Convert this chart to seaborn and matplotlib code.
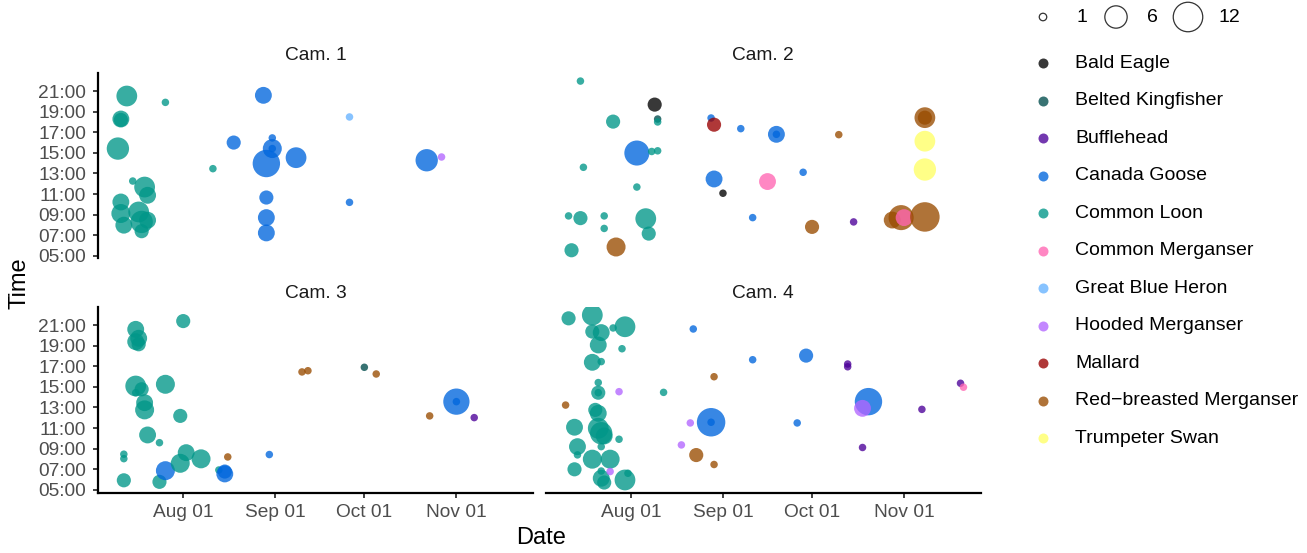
import numpy as np
import pandas as pd
import matplotlib
matplotlib.use("Agg")
import matplotlib.pyplot as plt
import matplotlib.dates as mdates
import seaborn as sns

# species codes -> legend names and colours
species_codes = ["BAEA", "BEKI", "BUFF", "CAGO", "COLO", "COME",
                 "GBHE", "HOME", "MALL", "RBME", "TRSW"]
species_names = ["Bald Eagle", "Belted Kingfisher", "Bufflehead", "Canada Goose",
                 "Common Loon", "Common Merganser", "Great Blue Heron",
                 "Hooded Merganser", "Mallard", "Red\u2212breasted Merganser",
                 "Trumpeter Swan"]
species_colors = ["#000000", "#004C4C", "#4C0099", "#0066DD", "#009688", "#FF66B2",
                  "#66B2FF", "#B266FF", "#990000", "#994C00", "#FFFF66"]

size_breaks = [1, 6, 12]

# ---- Cam. 1 ----
cam1_species = ["COLO", "COLO", "COLO", "COLO", "COLO", "COLO", "COLO", "COLO",
                "COLO", "COLO", "COLO", "COLO", "COLO", "COLO", "COLO", "COLO",
                "CAGO", "CAGO", "CAGO", "CAGO", "CAGO", "CAGO", "CAGO", "CAGO",
                "CAGO", "CAGO", "CAGO", "CAGO", "GBHE", "HOME"]
cam1_dates = ["07-13", "07-26", "07-11", "07-11", "07-10", "07-15", "07-19", "07-20",
              "07-11", "07-11", "07-17", "07-18", "07-12", "07-20", "07-18", "08-11",
              "08-28", "08-18", "08-31", "08-31", "08-31", "08-29", "09-08", "08-29",
              "08-29", "08-29", "09-26", "10-22", "09-26", "10-27"]
cam1_times = ["20:31", "19:54", "18:17", "18:12", "15:25", "12:16", "11:41", "10:53",
              "10:14", "09:07", "09:16", "08:18", "07:59", "08:28", "07:24", "13:28",
              "20:35", "16:00", "16:27", "15:25", "15:25", "13:58", "14:32", "10:40",
              "08:43", "07:14", "10:12", "14:17", "18:29", "14:36"]
cam1_counts = [5, 1, 3, 2, 6, 1, 5, 3, 3, 4, 5, 6, 3, 3, 2, 1,
               3, 2, 1, 4, 1, 10, 5, 2, 3, 3, 1, 6, 1, 1]

# ---- Cam. 2 ----
cam2_species = ["COLO", "BAEA", "COLO", "BEKI", "COLO", "CAGO", "MALL", "CAGO",
                "CAGO", "CAGO", "RBME", "RBME", "RBME", "TRSW", "TRSW", "CAGO",
                "COLO", "COLO", "COLO", "CAGO", "COME", "CAGO", "COLO", "BAEA",
                "COLO", "COLO", "COLO", "COLO", "COLO", "COLO", "COLO", "RBME",
                "CAGO", "RBME", "BUFF", "RBME", "RBME", "COME", "RBME"]
cam2_dates = ["07-15", "08-09", "07-26", "08-10", "08-10", "08-28", "08-29", "09-07",
              "09-19", "09-19", "10-10", "11-08", "11-08", "11-08", "11-08", "08-03",
              "08-08", "08-10", "07-16", "08-29", "09-16", "09-28", "08-03", "09-01",
              "07-11", "07-15", "07-23", "07-23", "08-06", "08-07", "07-12", "07-27",
              "09-11", "10-01", "10-15", "10-28", "10-31", "11-01", "11-08"]
cam2_times = ["21:58", "19:41", "18:02", "18:17", "18:00", "18:23", "17:44", "17:21",
              "16:48", "16:48", "16:46", "18:25", "18:25", "16:08", "13:23", "14:59",
              "15:08", "15:12", "13:36", "12:28", "12:13", "13:07", "11:41", "11:05",
              "08:53", "08:40", "08:53", "07:40", "08:37", "07:10", "05:33", "05:52",
              "08:43", "07:49", "08:18", "08:29", "08:43", "08:43", "08:47"]
cam2_counts = [1, 2, 2, 1, 1, 1, 2, 1, 3, 1, 1, 5, 2, 5, 6, 8,
               1, 1, 1, 3, 3, 1, 1, 1, 1, 2, 1, 1, 5, 2, 2, 4,
               1, 2, 1, 3, 8, 3, 12]

# ---- Cam. 3 ----
cam3_species = ["COLO", "COLO", "COLO", "COLO", "COLO", "COLO", "COLO", "COLO",
                "COLO", "COLO", "COLO", "COLO", "COLO", "COLO", "COLO", "COLO",
                "COLO", "COLO", "CAGO", "COLO", "COLO", "COLO", "COLO", "CAGO",
                "CAGO", "RBME", "CAGO", "RBME", "RBME", "BEKI", "RBME", "RBME",
                "CAGO", "CAGO", "BUFF"]
cam3_dates = ["08-01", "07-16", "07-17", "07-16", "07-17", "07-16", "07-18", "07-16",
              "07-26", "07-19", "07-19", "07-31", "07-20", "07-24", "07-12", "07-12",
              "07-12", "07-24", "07-26", "07-31", "08-02", "08-07", "08-13", "08-15",
              "08-15", "08-16", "08-30", "09-10", "09-12", "10-01", "10-05", "10-23",
              "11-01", "11-01", "11-07"]
cam3_times = ["21:23", "20:35", "19:43", "19:23", "19:08", "15:05", "14:46", "14:26",
              "15:15", "13:28", "12:46", "12:11", "10:20", "09:35", "08:28", "08:02",
              "05:56", "05:47", "06:52", "07:35", "08:37", "08:01", "06:56", "06:33",
              "06:47", "08:12", "08:26", "16:27", "16:34", "16:54", "16:15", "12:11",
              "13:34", "13:34", "12:01"]
cam3_counts = [2, 3, 3, 3, 2, 5, 2, 1, 4, 3, 4, 2, 3, 1, 1, 1,
               2, 2, 4, 4, 3, 4, 1, 3, 2, 1, 1, 1, 1, 1, 1, 1,
               9, 1, 1]

# ---- Cam. 4 ----
cam4_species = ["COLO", "COLO", "COLO", "COLO", "COLO", "COLO", "COLO", "COLO",
                "COLO", "COLO", "CAGO", "CAGO", "CAGO", "BUFF", "BUFF", "RBME",
                "COLO", "COLO", "COLO", "HOME", "COLO", "RBME", "BUFF", "COME",
                "COLO", "COLO", "CAGO", "HOME", "BUFF", "CAGO", "CAGO", "HOME",
                "CAGO", "COLO", "COLO", "COLO", "COLO", "COLO", "COLO", "COLO",
                "COLO", "COLO", "COLO", "COLO", "COLO", "COLO", "COLO", "COLO",
                "COLO", "HOME", "HOME", "RBME", "RBME", "BUFF"]
cam4_dates = ["07-11", "07-19", "07-30", "07-26", "07-19", "07-22", "07-21", "07-29",
              "07-19", "07-22", "08-22", "09-11", "09-29", "10-13", "10-13", "08-29",
              "07-21", "07-21", "07-21", "07-28", "08-12", "07-10", "11-20", "11-21",
              "07-20", "07-21", "10-20", "10-18", "11-07", "08-28", "08-28", "08-21",
              "09-26", "07-13", "07-21", "07-22", "07-23", "07-28", "07-14", "07-14",
              "07-22", "07-19", "07-25", "07-13", "07-22", "07-22", "07-23", "07-30",
              "07-31", "07-25", "08-18", "08-23", "08-29", "10-18"]
cam4_times = ["21:39", "21:58", "20:50", "20:43", "20:22", "20:16", "19:04", "18:42",
              "17:23", "17:27", "20:37", "17:38", "18:02", "17:13", "16:57", "15:59",
              "15:25", "14:26", "14:26", "14:32", "14:28", "13:14", "15:21", "14:58",
              "12:46", "12:26", "13:34", "12:55", "12:49", "11:34", "11:34", "11:30",
              "11:30", "11:05", "10:59", "10:30", "10:14", "09:55", "09:12", "08:24",
              "09:12", "07:59", "07:59", "07:00", "06:50", "06:08", "05:43", "05:58",
              "06:37", "06:47", "09:22", "08:23", "07:28", "09:07"]
cam4_counts = [2, 5, 5, 1, 2, 3, 3, 1, 3, 1, 1, 1, 2, 1, 1, 1,
               1, 2, 1, 1, 1, 1, 1, 1, 2, 3, 10, 3, 1, 11, 1, 1,
               1, 3, 5, 6, 3, 1, 3, 1, 1, 4, 4, 2, 1, 3, 2, 5,
               1, 1, 1, 2, 1, 1]

cam_titles = ["Cam. 1", "Cam. 2", "Cam. 3", "Cam. 4"]
YEAR = "2021"


def make_frame(species, dates, times, counts):
    ''' Build a tidy frame for one camera from the parallel lists. '''
    names = dict(zip(species_codes, species_names))
    return pd.DataFrame({
        'species': [names[s] for s in species],
        'date': pd.to_datetime([YEAR + '-' + d for d in dates]),
        'time': [int(t[:2]) + int(t[3:]) / 60 for t in times],
        'count': counts,
    })


frames = [make_frame(cam1_species, cam1_dates, cam1_times, cam1_counts),
          make_frame(cam2_species, cam2_dates, cam2_times, cam2_counts),
          make_frame(cam3_species, cam3_dates, cam3_times, cam3_counts),
          make_frame(cam4_species, cam4_dates, cam4_times, cam4_counts)]

# ggplot-like size scale: diameter grows with sqrt of the rescaled count
DPI = 100
W, H = 1307, 553


def diam_px(n):
    return 7.5 + 22.0 * np.sqrt((n - 1) / 11.0)


def area_pt(n):
    return (diam_px(n) * 72.0 / DPI) ** 2


size_map = {n: area_pt(n) for n in range(1, 13)}
palette = dict(zip(species_names, species_colors))

sns.set_theme(style="white")
plt.rcParams['font.family'] = ['Liberation Sans', 'DejaVu Sans']

fig = plt.figure(figsize=(W / DPI, H / DPI), dpi=DPI)

# panel boxes in pixels: (left, top, width, height)
left_x, right_x, pw = 98, 545.7, 435
top_y, bot_y, ph = 73, 307, 185.5
boxes = [(left_x, top_y), (right_x, top_y), (left_x, bot_y), (right_x, bot_y)]
strip_off = [18, 18, 14, 14]

xlo = mdates.date2num(pd.Timestamp(YEAR + '-08-01')) - 28.7
xhi = mdates.date2num(pd.Timestamp(YEAR + '-08-01')) + 117.8
ticks = [pd.Timestamp(YEAR + m) for m in ['-08-01', '-09-01', '-10-01', '-11-01']]

for i, (df, (bx, by)) in enumerate(zip(frames, boxes)):
    ax = fig.add_axes([bx / W, 1 - (by + ph) / H, pw / W, ph / H])
    sns.scatterplot(data=df, x='date', y='time', hue='species', palette=palette,
                    size='count', sizes=size_map, alpha=0.78, linewidth=0,
                    legend=False, ax=ax)
    ax.set_xlim(xlo, xhi)
    ax.set_ylim(4.75, 22.75)
    ax.set_xticks([mdates.date2num(t) for t in ticks])
    ax.xaxis.set_major_formatter(mdates.DateFormatter('%b %d'))
    ax.set_yticks(range(5, 22, 2))
    ax.set_yticklabels(['{:02d}:00'.format(h) for h in range(5, 22, 2)])
    ax.set(xlabel='', ylabel='')
    ax.grid(False)
    for side in ['top', 'right']:
        ax.spines[side].set_visible(False)
    for side in ['left', 'bottom']:
        ax.spines[side].set_color('black')
        ax.spines[side].set_linewidth(1.6)
    ax.tick_params(axis='both', length=3.5, width=1.3, color='#333333',
                   labelsize=13.8, labelcolor='#4D4D4D', pad=5, left=True, bottom=True)
    if i < 2:
        ax.spines['bottom'].set_visible(False)
        ax.tick_params(axis='x', bottom=False, labelbottom=False)
    if i % 2 == 1:
        ax.spines['left'].set_visible(False)
        ax.tick_params(axis='y', left=False, labelleft=False)
    ax.patch.set_alpha(0)
    # strip title
    fig.text((bx + pw / 2) / W, 1 - (by - strip_off[i]) / H, cam_titles[i],
             ha='center', va='center', fontsize=13.8, color='#1A1A1A')

fig.text(19 / W, 1 - 283 / H, 'Time', rotation=90, ha='center', va='center',
         fontsize=17, color='black')
fig.text(541 / W, 1 - 538 / H, 'Date', ha='center', va='center',
         fontsize=17, color='black')

# legend drawn in a pixel-space overlay
lax = fig.add_axes([0, 0, 1, 1])
lax.set_xlim(0, W)
lax.set_ylim(H, 0)
lax.axis('off')

size_x = [1043, 1116, 1188]
size_lab_x = [1076, 1147, 1219]
for n, cx, tx in zip(size_breaks, size_x, size_lab_x):
    lax.scatter([cx], [17], s=area_pt(n), facecolor='none', edgecolor='#333333',
                linewidth=0.9)
    lax.text(tx, 17, str(n), ha='left', va='center', fontsize=14, color='black')

for j, (name, col) in enumerate(zip(species_names, species_colors)):
    yy = 63.3 + 37.5 * j
    lax.scatter([1043], [yy], s=(10 * 72.0 / DPI) ** 2, color=col, alpha=0.78,
                linewidth=0)
    lax.text(1075, yy, name, ha='left', va='center', fontsize=14, color='black')

fig.savefig('out.png', dpi=DPI)
